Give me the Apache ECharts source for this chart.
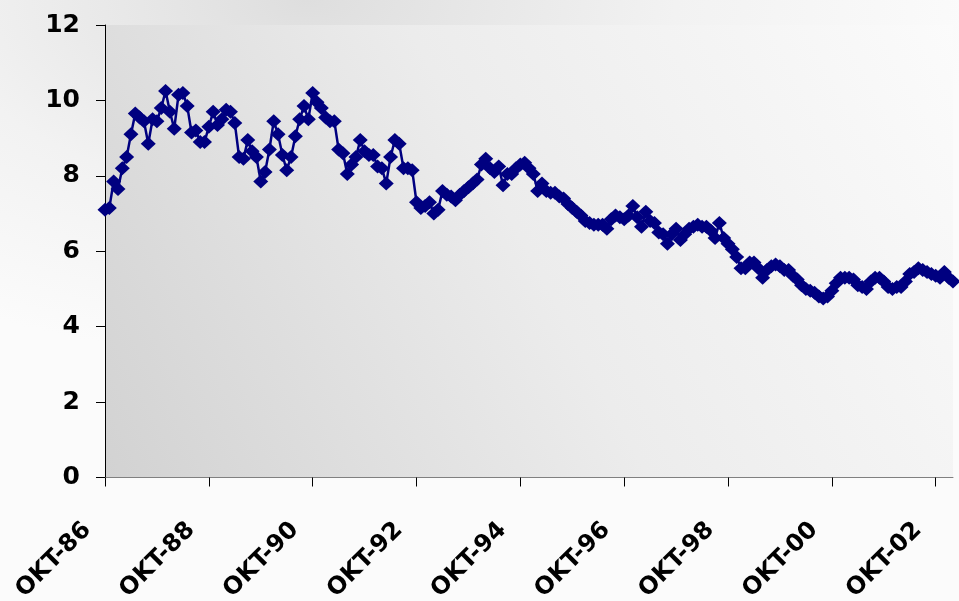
<!DOCTYPE html>
<html>
<head>
<meta charset="utf-8">
<script src="https://cdn.jsdelivr.net/npm/echarts@6/dist/echarts.min.js"></script>
<style>
  html, body { margin: 0; padding: 0; }
  body {
    background: radial-gradient(ellipse 70% 60% at 32% 0%, #dedede 0%, #f2f2f2 55%, #fbfbfb 100%);
  }
  #chart { width: 959px; height: 601px; }
</style>
</head>
<body>
<div id="chart"></div>
<script>
// monthly series, Oct 1986 .. Feb 2003
var monthNames = ['JAN', 'FEB', 'MAR', 'APR', 'MAJ', 'JUN', 'JUL', 'AVG', 'SEP', 'OKT', 'NOV', 'DEC'];
var startYear = 1986, startMonth = 9; // October

var rates8688 = [7.1, 7.15, 7.85, 7.65, 8.2, 8.5, 9.1, 9.65, 9.55, 9.45, 8.85, 9.5,
                 9.45, 9.8, 10.25, 9.7, 9.25, 10.15, 10.2, 9.85, 9.15, 9.2, 8.9, 8.9];
var rates8890 = [9.3, 9.7, 9.35, 9.5, 9.75, 9.7, 9.4, 8.5, 8.45, 8.95, 8.65, 8.5,
                 7.85, 8.1, 8.7, 9.45, 9.1, 8.55, 8.15, 8.5, 9.05, 9.5, 9.85, 9.5];
var rates9092 = [10.2, 9.95, 9.8, 9.55, 9.45, 9.45, 8.7, 8.6, 8.05, 8.3, 8.5, 8.95,
                 8.65, 8.55, 8.55, 8.25, 8.2, 7.8, 8.5, 8.95, 8.85, 8.2, 8.2, 8.15];
var rates9294 = [7.3, 7.15, 7.2, 7.3, 7.0, 7.1, 7.6, 7.5, 7.45, 7.35, 7.5, 7.6,
                 7.7, 7.8, 7.9, 8.3, 8.45, 8.2, 8.1, 8.25, 7.75, 8.05, 8.05, 8.2];
var rates9496 = [8.3, 8.35, 8.2, 8.05, 7.6, 7.8, 7.6, 7.55, 7.55, 7.45, 7.4, 7.25,
                 7.15, 7.05, 6.95, 6.8, 6.75, 6.7, 6.7, 6.7, 6.6, 6.85, 6.95, 6.9];
var rates9698 = [6.85, 6.95, 7.2, 6.9, 6.65, 7.05, 6.8, 6.75, 6.5, 6.45, 6.2, 6.45,
                 6.6, 6.3, 6.45, 6.6, 6.65, 6.7, 6.65, 6.65, 6.55, 6.35, 6.75, 6.35];
var rates9800 = [6.2, 6.05, 5.85, 5.55, 5.55, 5.7, 5.7, 5.55, 5.3, 5.5, 5.6, 5.65,
                 5.6, 5.5, 5.5, 5.35, 5.25, 5.1, 5.0, 4.95, 4.9, 4.8, 4.75, 4.8];
var rates0002 = [4.95, 5.15, 5.3, 5.3, 5.3, 5.25, 5.1, 5.05, 5.0, 5.2, 5.3, 5.3,
                 5.2, 5.05, 5.0, 5.05, 5.05, 5.2, 5.4, 5.45, 5.55, 5.5, 5.45, 5.4];
var rates0203 = [5.35, 5.3, 5.45, 5.3, 5.2];

var values = [].concat(rates8688, rates8890, rates9092, rates9294, rates9496,
                       rates9698, rates9800, rates0002, rates0203);

var yTicks = { min: 0, max: 12, interval: 2 };

var categories = [];
for (var i = 0; i < values.length; i++) {
    var m = startMonth + i;
    var y = startYear + Math.floor(m / 12);
    categories.push(monthNames[m % 12] + '-' + String(y % 100).padStart(2, '0'));
}

var chart = echarts.init(document.getElementById('chart'));
chart.setOption({
    backgroundColor: 'transparent',
    animation: false,
    grid: {
        left: 105, right: 6, top: 25, bottom: 123.5,
        outerBoundsMode: 'none',
        containLabel: false,
        show: true,
        borderWidth: 0,
        backgroundColor: new echarts.graphic.LinearGradient(1, 0, 0, 1, [
            { offset: 0, color: '#fbfbfb' },
            { offset: 0.5, color: '#ececec' },
            { offset: 1, color: '#d2d2d2' }
        ])
    },
    xAxis: {
        type: 'category',
        data: categories,
        boundaryGap: false,
        axisLine: { lineStyle: { color: '#808080', width: 1 } },
        axisTick: { interval: 23, length: 9, lineStyle: { color: '#000' } },
        axisLabel: {
            interval: 23,
            rotate: 45,
            margin: 31,
            padding: [0, 25, 0, 0],
            color: '#000',
            fontFamily: 'DejaVu Sans',
            fontWeight: 'bold',
            fontSize: 24
        },
        splitLine: { show: false }
    },
    yAxis: {
        type: 'value',
        min: yTicks.min,
        max: yTicks.max,
        interval: yTicks.interval,
        axisLine: { show: true, lineStyle: { color: '#000', width: 1 } },
        axisTick: { show: true, length: 9, lineStyle: { color: '#000' } },
        axisLabel: {
            margin: 25,
            color: '#000',
            fontFamily: 'DejaVu Sans',
            fontWeight: 'bold',
            fontSize: 25
        },
        splitLine: { show: false }
    },
    series: [{
        type: 'line',
        data: values,
        symbol: 'diamond',
        symbolSize: [15, 14],
        showAllSymbol: true,
        lineStyle: { color: '#000080', width: 2.5 },
        itemStyle: { color: '#000080' }
    }]
});
</script>
</body>
</html>
